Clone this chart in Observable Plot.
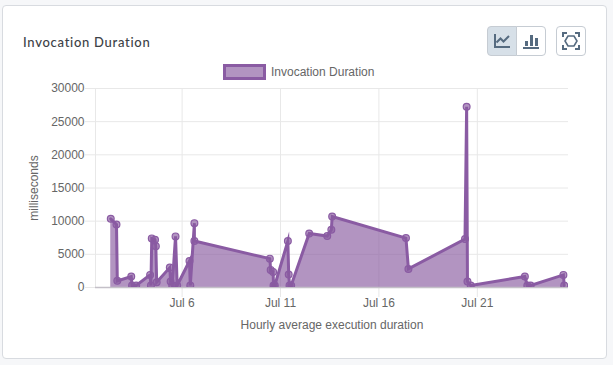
<!DOCTYPE html>
<html><head><meta charset="utf-8">
<script src="https://cdn.jsdelivr.net/npm/d3@7"></script>
<script src="https://cdn.jsdelivr.net/npm/@observablehq/plot@0.6"></script>
<style>
html,body{margin:0;padding:0;background:#f6f7f9;}
body{width:613px;height:365px;position:relative;overflow:hidden;font-family:"Liberation Sans",Arial,sans-serif;}
#card{position:absolute;left:2px;top:5px;width:603px;height:352px;background:#fff;border:1px solid #d8dbe0;border-radius:4px;box-sizing:content-box;}
#title{position:absolute;left:23px;top:33px;font:500 13px/18px "Lato","Noto Sans",sans-serif;color:#3c4146;letter-spacing:.72px;}
#legend{position:absolute;left:223px;top:64px;height:16px;display:flex;align-items:center;color:#666;font-size:12px;}
#legend i{display:block;width:37px;height:10px;background:rgba(137,90,160,.65);border:3px solid #8a5ba3;margin-right:5px;}
#chart{position:absolute;left:0;top:0;}
.btn{position:absolute;top:26px;height:30px;box-sizing:border-box;border:1px solid #c6ccd3;background:#fff;display:flex;align-items:center;justify-content:center;}
.btn svg{display:block;}
</style></head><body>
<div id="card"></div>
<div id="chart"></div>
<div id="title">Invocation Duration</div>
<div id="legend"><i></i><span>Invocation Duration</span></div>
<div class="btn" style="left:487px;width:30px;border-radius:4px 0 0 4px;background:#d7e0e8;">
<svg width="18" height="18" viewBox="0 0 18 18" fill="none" stroke="#566b80" stroke-width="2"><path d="M2 2v13h15"/><path d="M3.5 10.5l4-4 3 3 5.5-5.5"/></svg></div>
<div class="btn" style="left:516px;width:30px;border-radius:0 4px 4px 0;">
<svg width="18" height="18" viewBox="0 0 18 18" fill="#566b80"><rect x="1" y="15" width="16" height="2"/><rect x="3" y="9" width="3" height="5"/><rect x="8" y="3" width="3" height="11"/><rect x="13" y="6" width="3" height="8"/></svg></div>
<div class="btn" style="left:556px;width:30px;border-radius:4px;">
<svg width="18" height="18" viewBox="0 0 18 18" fill="none" stroke="#566b80" stroke-width="2"><path d="M1 5V1h4M13 1h4v4M17 13v4h-4M5 17H1v-4"/><path d="M6 4h6l3 5-3 5H6L3 9z" stroke-width="1.6"/></svg></div>
<script>
const timestamps = [
"2023-07-02T09:00Z","2023-07-02T16:00Z","2023-07-02T17:00Z","2023-07-03T10:00Z","2023-07-03T11:00Z","2023-07-03T16:00Z",
"2023-07-04T09:00Z","2023-07-04T10:00Z","2023-07-04T11:00Z","2023-07-04T15:00Z","2023-07-04T16:00Z","2023-07-04T17:00Z",
"2023-07-05T09:00Z","2023-07-05T10:00Z","2023-07-05T12:00Z","2023-07-05T16:00Z","2023-07-05T18:00Z",
"2023-07-06T09:00Z","2023-07-06T10:00Z","2023-07-06T15:00Z","2023-07-06T15:00Z",
"2023-07-10T11:00Z","2023-07-10T12:00Z","2023-07-10T15:00Z","2023-07-10T15:30Z","2023-07-10T17:00Z",
"2023-07-11T09:00Z","2023-07-11T10:00Z","2023-07-11T11:00Z","2023-07-11T13:00Z",
"2023-07-12T11:00Z","2023-07-13T09:00Z","2023-07-13T14:00Z","2023-07-13T15:00Z",
"2023-07-17T09:00Z","2023-07-17T12:00Z",
"2023-07-20T09:00Z","2023-07-20T11:00Z","2023-07-20T12:00Z","2023-07-20T16:00Z",
"2023-07-23T10:00Z","2023-07-23T13:00Z","2023-07-23T17:00Z",
"2023-07-25T09:00Z","2023-07-25T10:00Z"];
const durations = [
10350,9500,1000,1650,300,300,
1900,300,7400,7200,6200,800,
3000,900,300,7700,300,
4000,300,9700,7000,
4350,2650,2350,300,300,
7000,1950,300,300,
8150,7750,8700,10700,
7450,2800,
7300,27250,900,300,
1650,300,300,
1900,300];
const xDomain = ["2023-07-01T14:24Z","2023-07-25T15:13Z"];
const xTicks = ["2023-07-06T00:00Z","2023-07-11T00:00Z","2023-07-16T00:00Z","2023-07-21T00:00Z"];
const yTicks = [0,5000,10000,15000,20000,25000,30000];
const lineColor = "#8a5ba3", txt = "#666", grid = "#e8e8e8";
const rows = timestamps.map((t,i)=>({t:new Date(t),v:durations[i]}));
const xT = xTicks.map(t=>new Date(t));
const xEdges = xDomain.map(t=>new Date(t));
const plot = Plot.plot({
  width:613,height:365,marginLeft:95,marginRight:45,marginTop:88,marginBottom:78,
  style:{background:"transparent",fontFamily:'"Liberation Sans",Arial,sans-serif',fontSize:"12px"},
  x:{type:"utc",domain:xEdges},
  y:{domain:[0,30000]},
  marks:[
    Plot.ruleX([...xEdges.slice(0,1),...xT],{stroke:grid,strokeOpacity:1}),
    Plot.ruleY(yTicks,{stroke:grid,strokeOpacity:1}),
    Plot.axisX({ticks:xT,tickSize:10,tickPadding:1,tickFormat:d=>d3.utcFormat("%b %-d")(d),label:"Hourly average execution duration",labelAnchor:"center",labelArrow:"none",labelOffset:41,color:txt,stroke:grid,strokeOpacity:1}),
    Plot.axisY({ticks:yTicks,tickSize:10,tickPadding:1,tickFormat:d=>String(d),label:"milliseconds",labelAnchor:"center",labelArrow:"none",labelOffset:66,color:txt,stroke:grid,strokeOpacity:1}),
    Plot.areaY(rows,{x:"t",y1:0,y2:"v",fill:"rgb(137,90,160)",fillOpacity:.65,curve:"linear"}),
    Plot.ruleY([0],{stroke:"#c4c0c8",strokeWidth:1.5}),
    Plot.lineY(rows,{x:"t",y:"v",stroke:lineColor,strokeWidth:3,strokeLinejoin:"miter",strokeMiterlimit:10,curve:"linear",clip:"frame"}),
    Plot.dot(rows,{x:"t",y:"v",r:3.4,fill:"rgba(137,90,160,.65)",stroke:lineColor,strokeWidth:1.2,clip:"frame"})
  ]
});
document.getElementById("chart").appendChild(plot);
</script>
</body></html>
